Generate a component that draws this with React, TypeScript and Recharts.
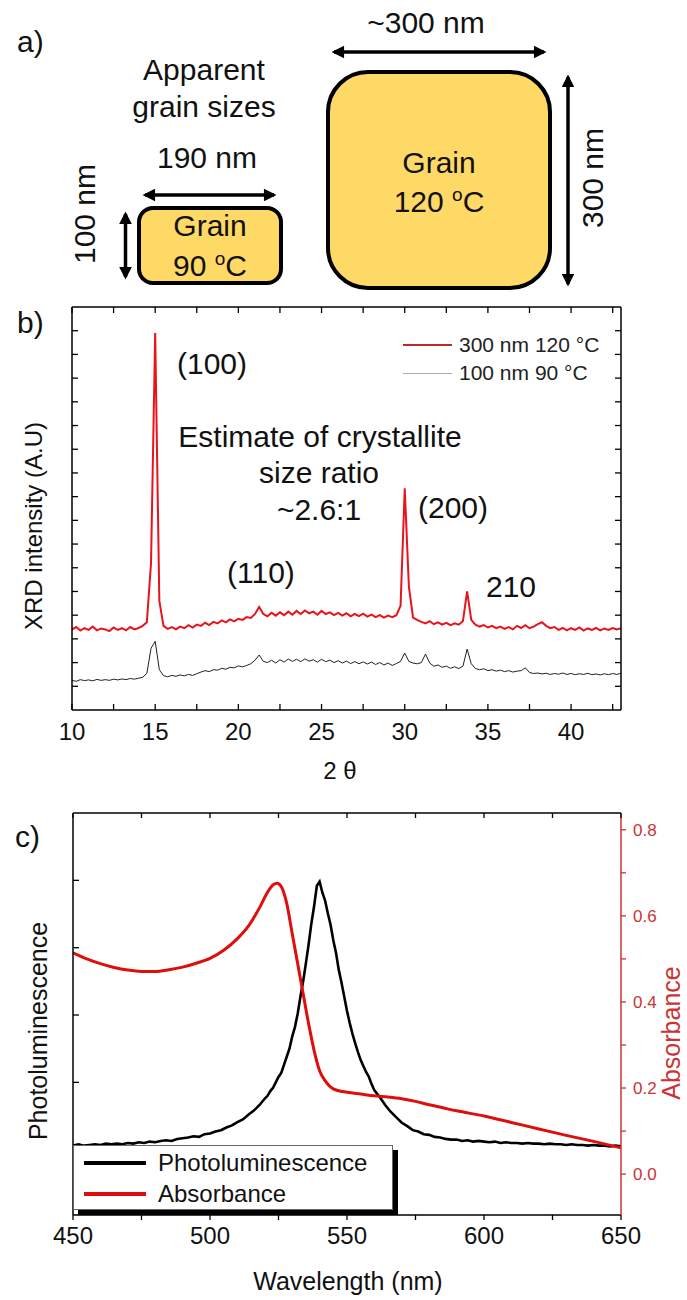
import React from "react";
import { LineChart, Line, XAxis, YAxis, Legend } from "recharts";

const FONT = '"Liberation Sans", Arial, Helvetica, sans-serif';

// ---- panel b: XRD (2 theta, arbitrary intensity units) ----
const twoTheta = [
  10, 10.25, 10.5, 10.75, 11, 11.25, 11.5, 11.75, 12, 12.25, 12.5, 12.75,
  13, 13.25, 13.5, 13.75, 14, 14.25, 14.5, 14.75, 15, 15.25, 15.5, 15.75,
  16, 16.25, 16.5, 16.75, 17, 17.25, 17.5, 17.75, 18, 18.25, 18.5, 18.75,
  19, 19.25, 19.5, 19.75, 20, 20.25, 20.5, 20.75, 21, 21.25, 21.5, 21.75,
  22, 22.25, 22.5, 22.75, 23, 23.25, 23.5, 23.75, 24, 24.25, 24.5, 24.75,
  25, 25.25, 25.5, 25.75, 26, 26.25, 26.5, 26.75, 27, 27.25, 27.5, 27.75,
  28, 28.25, 28.5, 28.75, 29, 29.25, 29.5, 29.75, 30, 30.25, 30.5, 30.75,
  31, 31.25, 31.5, 31.75, 32, 32.25, 32.5, 32.75, 33, 33.25, 33.5, 33.75,
  34, 34.25, 34.5, 34.75, 35, 35.25, 35.5, 35.75, 36, 36.25, 36.5, 36.75,
  37, 37.25, 37.5, 37.75, 38, 38.25, 38.5, 38.75, 39, 39.25, 39.5, 39.75,
  40, 40.25, 40.5, 40.75, 41, 41.25, 41.5, 41.75, 42, 42.25, 42.5, 42.75,
  43,
];

const xrd300nm120C = [
  3.4, 3.5, 3.35, 3.45, 3.38, 3.52, 3.36, 3.44, 3.4, 3.33, 3.48, 3.38,
  3.45, 3.36, 3.5, 3.4, 3.46, 3.55, 3.7, 6.2, 15.9, 4.6, 3.55, 3.42,
  3.5, 3.4, 3.52, 3.45, 3.58, 3.48, 3.6, 3.55, 3.68, 3.58, 3.72, 3.65,
  3.78, 3.7, 3.82, 3.74, 3.85, 3.8, 3.92, 3.88, 4.05, 4.35, 4.05, 3.95,
  4.1, 3.98, 4.12, 4.0, 4.15, 4.02, 4.18, 4.05, 4.2, 4.08, 4.15, 4.02,
  4.18, 4.05, 4.12, 4.0, 4.1, 3.98, 4.08, 3.95, 4.05, 3.96, 4.06, 3.94,
  4.02, 3.92, 4.0, 3.9, 3.98, 3.92, 4.0, 4.4, 9.35, 5.2, 3.9, 3.8,
  3.72, 3.65, 3.75, 3.62, 3.7, 3.6, 3.68, 3.58, 3.66, 3.6, 3.75, 5.0,
  3.8, 3.6, 3.52, 3.58, 3.48, 3.55, 3.45, 3.52, 3.42, 3.5, 3.4, 3.55,
  3.46, 3.58, 3.45, 3.52, 3.62, 3.7, 3.55, 3.45, 3.5, 3.38, 3.46, 3.36,
  3.45, 3.38, 3.48, 3.35, 3.44, 3.38, 3.46, 3.36, 3.44, 3.38, 3.46, 3.4,
  3.45,
];

const xrd100nm90C = [
  1.25, 1.21, 1.28, 1.24, 1.27, 1.23, 1.29, 1.25, 1.28, 1.25, 1.3, 1.27,
  1.31, 1.28, 1.33, 1.3, 1.34, 1.38, 1.55, 2.6, 2.9, 1.7, 1.45, 1.4,
  1.46, 1.42, 1.48, 1.44, 1.5, 1.46, 1.53, 1.6, 1.66, 1.62, 1.7, 1.68,
  1.76, 1.72, 1.8, 1.78, 1.86, 1.82, 1.88, 1.95, 2.1, 2.32, 2.05, 2.0,
  2.1, 1.98, 2.12, 2.02, 2.15, 2.05, 2.14, 2.04, 2.16, 2.06, 2.12, 2.02,
  2.14, 2.04, 2.1, 2.0, 2.08, 1.98, 2.06, 1.96, 2.04, 1.95, 2.03, 1.94,
  2.02, 1.92, 2.0, 1.9, 1.98, 1.88, 1.96, 2.05, 2.4, 2.05, 1.98, 1.95,
  2.0, 2.36, 1.98, 1.85, 1.9, 1.8, 1.85, 1.76, 1.82, 1.75, 1.85, 2.57,
  1.95, 1.75, 1.7, 1.74, 1.66, 1.7, 1.64, 1.68, 1.62, 1.66, 1.6, 1.64,
  1.66, 1.78, 1.58, 1.54, 1.56, 1.52, 1.55, 1.5, 1.54, 1.51, 1.56, 1.5,
  1.54, 1.49, 1.53, 1.5, 1.55, 1.49, 1.52, 1.48, 1.53, 1.49, 1.54, 1.5,
  1.55,
];

const thetaDomain = [10, 43];
const xrdDomain = [0, 17];
const thetaTicks = [10, 12.5, 15, 17.5, 20, 22.5, 25, 27.5, 30, 32.5, 35, 37.5, 40, 42.5];
const xrdTicks = [1, 2, 3, 4, 5, 6, 7, 8, 9, 10, 11, 12, 13, 14, 15, 16];
const xrdLegendOrder = ["300 nm 120 °C", "100 nm 90 °C"];

// ---- panel c: photoluminescence + absorbance ----
const plWavelength = [
  450, 452, 454, 456, 458, 460, 462, 464, 466, 468,
  470, 472, 474, 476, 478, 480, 482, 484, 486, 488,
  490, 492, 494, 496, 498, 500, 502, 504, 506, 508,
  510, 512, 514, 516, 518, 520,
  521, 522, 523, 524, 525, 526, 527, 528, 529, 530,
  531, 532, 533, 534, 535, 536, 537, 538, 539, 540,
  541, 542, 543, 544, 545, 546, 547, 548, 549, 550,
  551, 552, 553, 554, 555, 556, 557, 558, 559, 560,
  562, 564, 566, 568, 570, 572, 574, 576, 578, 580,
  582, 584, 586, 588, 590, 592, 594, 596, 598, 600,
  602, 604, 606, 608, 610, 612, 614, 616, 618, 620,
  622, 624, 626, 628, 630, 632, 634, 636, 638, 640,
  642, 644, 646, 648, 650,
];

const plIntensity = [
  0.06, 0.08, 0.06, 0.07, 0.08, 0.07, 0.09, 0.08, 0.09, 0.08,
  0.1, 0.09, 0.11, 0.1, 0.12, 0.11, 0.13, 0.14, 0.13, 0.16,
  0.17, 0.18, 0.2, 0.19, 0.23, 0.24, 0.27, 0.29, 0.33, 0.36,
  0.41, 0.45, 0.52, 0.58, 0.66, 0.76,
  0.8, 0.87, 0.92, 1.0, 1.08, 1.14, 1.26, 1.38, 1.5, 1.68,
  1.82, 2.02, 2.27, 2.5, 2.77, 3.05, 3.36, 3.62, 3.92, 3.98,
  3.82, 3.7, 3.51, 3.34, 3.11, 2.92, 2.67, 2.48, 2.27, 2.06,
  1.88, 1.72, 1.58, 1.45, 1.33, 1.24, 1.15, 1.08, 0.97, 0.88,
  0.78, 0.66, 0.56, 0.48, 0.4, 0.35, 0.29, 0.27, 0.23, 0.22,
  0.19, 0.18, 0.16, 0.15, 0.15, 0.13, 0.14, 0.12, 0.13, 0.12,
  0.11, 0.12, 0.1, 0.11, 0.1, 0.1, 0.09, 0.1, 0.09, 0.09,
  0.08, 0.09, 0.08, 0.08, 0.07, 0.08, 0.07, 0.07, 0.06, 0.07,
  0.06, 0.06, 0.05, 0.06, 0.05,
];

const absWavelength = [
  450, 455, 460, 465, 470, 475, 480, 485, 490, 495,
  500, 505, 510, 514, 518, 521, 523, 524.5, 526, 528,
  530, 532, 534, 536, 538, 540, 542, 545, 550, 555,
  560, 565, 570, 575, 580, 585, 590, 600, 610, 620,
  630, 640, 650,
];

const absorbance = [
  0.514, 0.5, 0.489, 0.48, 0.474, 0.471, 0.471, 0.475, 0.481, 0.49,
  0.501, 0.52, 0.547, 0.576, 0.618, 0.655, 0.672, 0.676, 0.668, 0.629,
  0.559, 0.489, 0.419, 0.349, 0.287, 0.24, 0.217, 0.198, 0.19, 0.186,
  0.182, 0.179, 0.175, 0.169, 0.161, 0.154, 0.147, 0.135, 0.12, 0.105,
  0.09, 0.076, 0.061,
];

const wavelengthDomain = [450, 650];
const plDomain = [-0.97, 5];
const absDomain = [-0.095, 0.839];
const wavelengthTicks = [450, 475, 500, 525, 550, 575, 600, 625, 650];
const plTicks = [0, 1, 2, 3, 4];
const absTicks = [0, 0.1, 0.2, 0.3, 0.4, 0.5, 0.6, 0.7, 0.8];
const plLegendOrder = ["Photoluminescence", "Absorbance"];

const ABS_RED = "#cc3333";

// plot rectangles on the page (chart offset + margins + axis sizes)
const XRD_BOX = { left: 72, right: 621, top: 307, bottom: 710 };
const PL_BOX = { left: 73, right: 621, top: 813, bottom: 1215 };

function ordered(payload: any[] | undefined, order: string[]) {
  const items = [...(payload || [])];
  items.sort((a, b) => order.indexOf(a.value) - order.indexOf(b.value));
  return items;
}

function XrdLegend(props: any) {
  const items = ordered(props.payload, xrdLegendOrder);
  return (
    <div style={{ fontFamily: FONT, fontSize: 21, color: "#222" }}>
      {items.map((it: any) => {
        const hot = it.value.startsWith("300");
        return (
          <div key={it.value} style={{ display: "flex", alignItems: "center", height: 28 }}>
            <div
              style={{
                width: 49,
                height: hot ? 2 : 1,
                background: hot ? "#c0262c" : "#aaaaaa",
                marginRight: 7,
              }}
            />
            <span>{it.value}</span>
          </div>
        );
      })}
    </div>
  );
}

function PlLegend(props: any) {
  const items = ordered(props.payload, plLegendOrder);
  return (
    <div
      style={{
        position: "relative",
        width: 320,
        height: 65,
        boxSizing: "border-box",
        border: "1px solid #666",
        background: "#fff",
        boxShadow: "5px 5px 0 #000",
        fontFamily: FONT,
        fontSize: 24,
        color: "#111",
      }}
    >
      {items.map((it: any, i: number) => (
        <div
          key={it.value}
          style={{ position: "absolute", left: 10, top: 2 + i * 31, height: 30, display: "flex", alignItems: "center" }}
        >
          <div style={{ width: 62, height: 4, background: it.color, marginRight: 12 }} />
          <span>{it.value}</span>
        </div>
      ))}
    </div>
  );
}

// top / right frame with inward ticks (the chart draws bottom and left)
function FrameEdges() {
  const bx = (v: number) =>
    XRD_BOX.left + ((v - thetaDomain[0]) / (thetaDomain[1] - thetaDomain[0])) * (XRD_BOX.right - XRD_BOX.left);
  const by = (v: number) =>
    XRD_BOX.bottom - ((v - xrdDomain[0]) / (xrdDomain[1] - xrdDomain[0])) * (XRD_BOX.bottom - XRD_BOX.top);
  const cx = (v: number) =>
    PL_BOX.left +
    ((v - wavelengthDomain[0]) / (wavelengthDomain[1] - wavelengthDomain[0])) * (PL_BOX.right - PL_BOX.left);
  const edge = { stroke: "#000", strokeWidth: 1.5 };
  const tick = { stroke: "#000", strokeWidth: 1.3 };
  return (
    <g>
      <line x1={XRD_BOX.left} y1={XRD_BOX.top} x2={XRD_BOX.right} y2={XRD_BOX.top} {...edge} />
      <line x1={XRD_BOX.right} y1={XRD_BOX.top} x2={XRD_BOX.right} y2={XRD_BOX.bottom} {...edge} />
      {thetaTicks.map((v) => (
        <line key={`bt${v}`} x1={bx(v)} y1={XRD_BOX.top} x2={bx(v)} y2={XRD_BOX.top + 6} {...tick} />
      ))}
      {xrdTicks.map((v) => (
        <line key={`br${v}`} x1={XRD_BOX.right} y1={by(v)} x2={XRD_BOX.right - 6} y2={by(v)} {...tick} />
      ))}
      <line x1={PL_BOX.left} y1={PL_BOX.top} x2={PL_BOX.right} y2={PL_BOX.top} {...edge} />
      {wavelengthTicks.map((v) => (
        <line key={`ct${v}`} x1={cx(v)} y1={PL_BOX.top} x2={cx(v)} y2={PL_BOX.top + 5} {...tick} />
      ))}
    </g>
  );
}

function Annotations() {
  const t = { fontFamily: FONT, fill: "#111" };
  return (
    <svg
      width={687}
      height={1300}
      style={{ position: "absolute", left: 0, top: 0, pointerEvents: "none" }}
    >
      <defs>
        <marker id="ah" viewBox="0 0 10 10" refX="8" refY="5" markerWidth="4" markerHeight="3.6" orient="auto-start-reverse">
          <path d="M0,0 L10,5 L0,10 z" fill="#000" />
        </marker>
      </defs>

      {/* a) grain sketch */}
      <text x={17} y={52} fontSize={30} {...t}>a)</text>
      <text x={426} y={33} fontSize={30} textAnchor="middle" {...t}>~300 nm</text>
      <line x1={334} y1={52} x2={544} y2={52} stroke="#000" strokeWidth={3.5} markerStart="url(#ah)" markerEnd="url(#ah)" />
      <text x={204} y={80} fontSize={30} textAnchor="middle" {...t}>Apparent</text>
      <text x={204} y={117} fontSize={30} textAnchor="middle" {...t}>grain sizes</text>
      <text x={207} y={168} fontSize={30} textAnchor="middle" {...t}>190 nm</text>
      <line x1={145} y1={195} x2={274} y2={195} stroke="#000" strokeWidth={3.5} markerStart="url(#ah)" markerEnd="url(#ah)" />

      <rect x={139} y={208} width={142} height={75} rx={14} fill="#ffd966" stroke="#000" strokeWidth={4} />
      <text x={210} y={236} fontSize={30} textAnchor="middle" {...t}>Grain</text>
      <text x={210} y={276} fontSize={30} textAnchor="middle" {...t}>
        90 <tspan fontSize={19} dy={-11}>o</tspan><tspan dy={11}>C</tspan>
      </text>
      <line x1={125.5} y1={214} x2={125.5} y2={277} stroke="#000" strokeWidth={3.5} markerStart="url(#ah)" markerEnd="url(#ah)" />
      <text x={95} y={214} fontSize={30} textAnchor="middle" transform="rotate(-90 95 214)" {...t}>100 nm</text>

      <rect x={328} y={72} width={222} height={216} rx={40} fill="#ffd966" stroke="#000" strokeWidth={4} />
      <text x={439} y={173} fontSize={30} textAnchor="middle" {...t}>Grain</text>
      <text x={439} y={212} fontSize={30} textAnchor="middle" {...t}>
        120 <tspan fontSize={19} dy={-11}>o</tspan><tspan dy={11}>C</tspan>
      </text>
      <line x1={568} y1={77} x2={568} y2={284} stroke="#000" strokeWidth={3.5} markerStart="url(#ah)" markerEnd="url(#ah)" />
      <text x={603} y={178} fontSize={30} textAnchor="middle" transform="rotate(-90 603 178)" {...t}>300 nm</text>

      <FrameEdges />

      {/* b) XRD labels */}
      <text x={17} y={333} fontSize={30} {...t}>b)</text>
      <text x={177} y={374} fontSize={30} {...t}>(100)</text>
      <text x={320} y={447} fontSize={30} textAnchor="middle" {...t}>Estimate of crystallite</text>
      <text x={319} y={483} fontSize={30} textAnchor="middle" {...t}>size ratio</text>
      <text x={319} y={520} fontSize={30} textAnchor="middle" {...t}>~2.6:1</text>
      <text x={418} y={518} fontSize={30} {...t}>(200)</text>
      <text x={227} y={583} fontSize={30} {...t}>(110)</text>
      <text x={486} y={597} fontSize={30} {...t}>210</text>
      <text x={42} y={526} fontSize={24} textAnchor="middle" transform="rotate(-90 42 526)" {...t}>XRD intensity (A.U)</text>
      <text x={340} y={779} fontSize={24} textAnchor="middle" {...t}>2 θ</text>

      {/* c) PL / absorbance labels */}
      <text x={15} y={847} fontSize={30} {...t}>c)</text>
      <text x={47} y={1031} fontSize={25} textAnchor="middle" transform="rotate(-90 47 1031)" {...t}>Photoluminescence</text>
      <text x={680} y={1033} fontSize={25} textAnchor="middle" transform="rotate(-90 680 1033)" fontFamily={FONT} fill={ABS_RED}>Absorbance</text>
      <text x={348} y={1290} fontSize={25} textAnchor="middle" {...t}>Wavelength (nm)</text>
    </svg>
  );
}

const noLabel = () => "";

export default function App() {
  const xrdData = twoTheta.map((t, i) => ({ t, hot: xrd300nm120C[i], cold: xrd100nm90C[i] }));
  const plData = plWavelength.map((w, i) => ({ w, pl: plIntensity[i] }));
  const absData = absWavelength.map((w, i) => ({ w, abs: absorbance[i] }));

  const axisLine = { stroke: "#000", strokeWidth: 1.5 };
  const tickLine = { stroke: "#000", strokeWidth: 1.3 };
  const tickText = { fill: "#111", fontSize: 24, fontFamily: FONT };

  return (
    <div style={{ position: "absolute", left: 0, top: 0, width: 687, height: 1300, background: "#fff" }}>
      {/* b) XRD */}
      <div style={{ position: "absolute", left: 0, top: 280 }}>
        <LineChart width={687} height={520} data={xrdData} margin={{ top: 27, right: 66, bottom: 89, left: 71 }}>
          <XAxis
            dataKey="t"
            type="number"
            domain={thetaDomain}
            allowDataOverflow
            ticks={thetaTicks}
            interval={0}
            height={1}
            tickSize={-6}
            tickMargin={19}
            axisLine={axisLine}
            tickLine={tickLine}
            tick={tickText}
            tickFormatter={(v: number) => (v % 5 === 0 ? String(v) : "")}
          />
          <YAxis
            type="number"
            domain={xrdDomain}
            allowDataOverflow
            ticks={xrdTicks}
            interval={0}
            width={1}
            tickSize={-6}
            axisLine={axisLine}
            tickLine={tickLine}
            tickFormatter={noLabel}
          />
          <Line type="linear" dataKey="hot" name="300 nm 120 °C" stroke="#e8141b" strokeWidth={2} dot={false} isAnimationActive={false} />
          <Line type="linear" dataKey="cold" name="100 nm 90 °C" stroke="#222" strokeWidth={1} dot={false} isAnimationActive={false} />
          <Legend
            layout="vertical"
            align="center"
            verticalAlign="middle"
            content={<XrdLegend />}
            wrapperStyle={{ left: 403, top: 51, width: 230 }}
          />
        </LineChart>
      </div>

      {/* c) PL and absorbance */}
      <div style={{ position: "absolute", left: 0, top: 790 }}>
        <LineChart width={687} height={510} margin={{ top: 23, right: 65, bottom: 84, left: 72 }}>
          <XAxis
            dataKey="w"
            type="number"
            domain={wavelengthDomain}
            allowDataOverflow
            ticks={wavelengthTicks}
            interval={0}
            height={1}
            tickSize={5}
            tickMargin={7}
            axisLine={axisLine}
            tickLine={tickLine}
            tick={tickText}
            tickFormatter={(v: number) => (v % 50 === 0 ? String(v) : "")}
          />
          <YAxis
            yAxisId="pl"
            type="number"
            domain={plDomain}
            allowDataOverflow
            ticks={plTicks}
            interval={0}
            width={1}
            tickSize={-6}
            axisLine={axisLine}
            tickLine={tickLine}
            tickFormatter={noLabel}
          />
          <YAxis
            yAxisId="abs"
            orientation="right"
            type="number"
            domain={absDomain}
            allowDataOverflow
            ticks={absTicks}
            interval={0}
            width={1}
            tickSize={5}
            tickMargin={7}
            axisLine={{ stroke: ABS_RED, strokeWidth: 1.5 }}
            tickLine={{ stroke: ABS_RED, strokeWidth: 1.3 }}
            tick={{ fill: ABS_RED, fontSize: 17, fontFamily: FONT }}
            tickFormatter={(v: number) => (Math.round(v * 10) % 2 === 0 ? v.toFixed(1) : "")}
          />
          <Line
            yAxisId="pl"
            data={plData}
            type="linear"
            dataKey="pl"
            name="Photoluminescence"
            stroke="#000"
            strokeWidth={2.6}
            dot={false}
            isAnimationActive={false}
          />
          <Line
            yAxisId="abs"
            data={absData}
            type="monotone"
            dataKey="abs"
            name="Absorbance"
            stroke="#e00d0d"
            strokeWidth={3}
            dot={false}
            isAnimationActive={false}
          />
          <Legend
            layout="vertical"
            align="center"
            verticalAlign="middle"
            content={<PlLegend />}
            wrapperStyle={{ left: 73, top: 355, width: 330 }}
          />
        </LineChart>
      </div>

      <Annotations />
    </div>
  );
}
